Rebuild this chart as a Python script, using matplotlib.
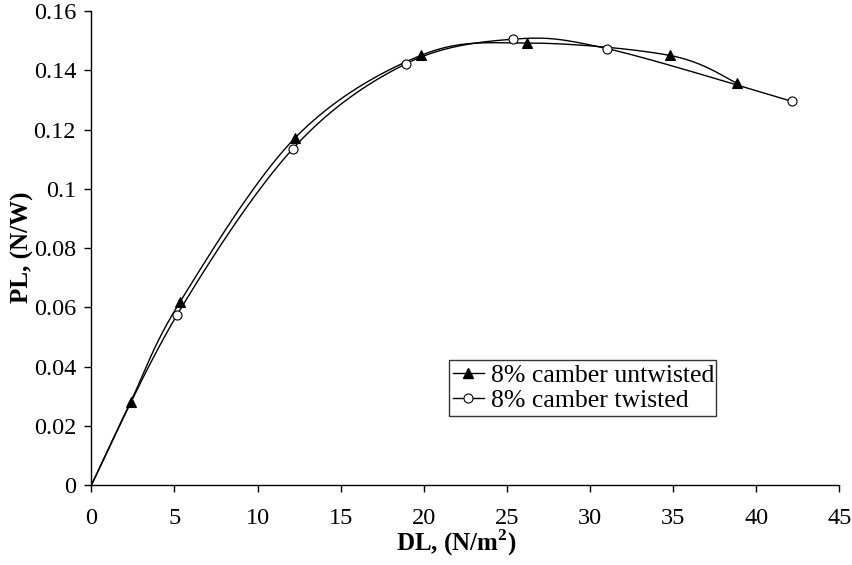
import numpy as np
import matplotlib
matplotlib.use("Agg")
import matplotlib.pyplot as plt
from matplotlib.lines import Line2D

# Disk loading vs power loading for an 8% cambered rotor blade
dl_untwisted = [0.0, 2.37, 5.34, 12.26, 19.82, 26.23, 34.82, 38.83]
pl_untwisted = [0.0, 0.0282, 0.0619, 0.1172, 0.1450, 0.1492, 0.1450, 0.1357]

dl_twisted = [0.0, 5.16, 12.12, 18.93, 25.39, 31.03, 42.16]
pl_twisted = [0.0, 0.0575, 0.1135, 0.1422, 0.1505, 0.1473, 0.1295]

x_ticks = [0, 5, 10, 15, 20, 25, 30, 35, 40, 45]
y_ticks = [0, 0.02, 0.04, 0.06, 0.08, 0.1, 0.12, 0.14, 0.16]
y_tick_labels = ["0", "0.02", "0.04", "0.06", "0.08", "0.1", "0.12", "0.14", "0.16"]

series_labels = ["8% camber untwisted", "8% camber twisted"]

plt.rcParams["font.family"] = ["Liberation Serif", "DejaVu Serif"]
plt.rcParams["mathtext.fontset"] = "custom"
plt.rcParams["mathtext.rm"] = "Liberation Serif"
plt.rcParams["mathtext.bf"] = "Liberation Serif:bold"

fig = plt.figure(figsize=(8.53, 5.65), dpi=100)
ax = fig.add_axes([91.3 / 853, 1 - 485.3 / 565, 748 / 853, 474.3 / 565])
ax.set_xlim(0, 45)
ax.set_ylim(0, 0.16)


def smooth_curve(ax, xs, ys, n=40):
    """Cardinal-spline (tension 1/6) Bezier smoothing done in screen space."""
    pts = ax.transData.transform(np.column_stack([xs, ys]))
    m = len(pts)
    out = [pts[0]]
    t = np.linspace(0, 1, n)[1:, None]
    for i in range(m - 1):
        p0 = pts[i - 1] if i > 0 else pts[i]
        p1 = pts[i]
        p2 = pts[i + 1]
        p3 = pts[i + 2] if i + 2 < m else pts[i + 1]
        c1 = p1 + (p2 - p0) / 6.0
        c2 = p2 - (p3 - p1) / 6.0
        seg = ((1 - t) ** 3) * p1 + 3 * ((1 - t) ** 2) * t * c1 \
            + 3 * (1 - t) * t ** 2 * c2 + t ** 3 * p2
        out.extend(seg)
    out = np.array(out)
    return ax.transData.inverted().transform(out)


line_kw = dict(color="black", lw=1.0, solid_capstyle="butt")

cu = smooth_curve(ax, dl_untwisted, pl_untwisted)
ax.plot(cu[:, 0], cu[:, 1], **line_kw)
ct = smooth_curve(ax, dl_twisted, pl_twisted)
ax.plot(ct[:, 0], ct[:, 1], **line_kw)

ax.plot(dl_untwisted[1:], pl_untwisted[1:], ls="none", marker="^",
        ms=7, mfc="black", mec="black", mew=0.8, clip_on=False, zorder=3)
ax.plot(dl_twisted[1:], pl_twisted[1:], ls="none", marker="o",
        ms=6.5, mfc="white", mec="black", mew=0.8, clip_on=False, zorder=3)

ax.set_xticks(x_ticks)
ax.set_xticklabels([str(v) for v in x_ticks])
ax.set_yticks(y_ticks)
ax.set_yticklabels(y_tick_labels)

for side in ("top", "right"):
    ax.spines[side].set_visible(False)
for side in ("left", "bottom"):
    ax.spines[side].set_linewidth(1.0)

ax.tick_params(axis="both", direction="out", length=5, width=1.0,
               labelsize=17.5, colors="black")
ax.tick_params(axis="x", pad=11)
ax.tick_params(axis="y", pad=6)

fig.text(456 / 853, 1 - 543 / 565, r"DL, (N/m$^{\mathbf{2}}$)",
         ha="center", va="center", fontsize=18, fontweight="bold")
fig.text(22 / 853, 1 - 247 / 565, "PL, (N/W)", rotation=90,
         ha="center", va="center", fontsize=18, fontweight="bold")

handles = [
    Line2D([], [], color="black", lw=1.0, marker="^", ms=7,
           mfc="black", mec="black"),
    Line2D([], [], color="black", lw=1.0, marker="o", ms=6.5,
           mfc="white", mec="black", mew=0.8),
]
leg = fig.legend(handles, series_labels, loc="lower left",
                 bbox_to_anchor=(449 / 853, 1 - 416 / 565, 267 / 853, 0.1),
                 mode="expand", fontsize=18.5, frameon=True, fancybox=False,
                 handlelength=1.2, handletextpad=0.3, borderpad=0.15,
                 labelspacing=0.1, borderaxespad=0.0)
leg.get_frame().set_edgecolor("black")
leg.get_frame().set_linewidth(1.0)

fig.savefig("out.png", dpi=100)
